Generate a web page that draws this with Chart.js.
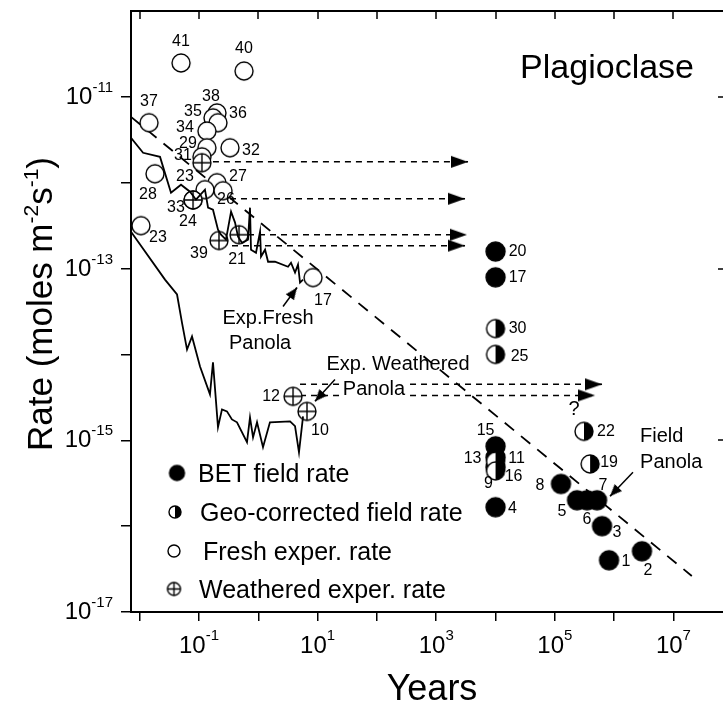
<!DOCTYPE html>
<html>
<head>
<meta charset="utf-8">
<script src="https://cdn.jsdelivr.net/npm/chart.js@4.4.0/dist/chart.umd.min.js"></script>
<style>
  html, body { margin: 0; padding: 0; background: #fff; overflow: hidden; }
  #wrap { width: 723px; height: 702px; overflow: hidden; }
  canvas { display: block; }
</style>
</head>
<body>
<div id="wrap"><canvas id="chart" width="740" height="702"></canvas></div>
<script>
// ---- data (years, rate in moles m-2 s-1) ----
const betYears  = [1e4, 1e4, 1e4, 1e4, 1e4, 1e4, 1.27e5, 2.37e5, 3.49e5, 5.15e5, 6.25e5, 8.2e5, 2.95e6];
const betRates  = [1.58e-13, 7.9e-14, 8.5e-16, 6.3e-16, 4.85e-16, 1.66e-16, 3.1e-16, 2.0e-16, 2.0e-16, 2.0e-16, 1.0e-16, 4.0e-17, 5.1e-17];
const betLabels = ['20', '17', '15', '11', '16', '4', '8', '5', '6', '7', '3', '1', '2'];

const geoYears  = [1e4, 1e4, 1e4, 1e4, 3.1e5, 3.93e5];
const geoRates  = [2.0e-14, 1.0e-14, 5.7e-16, 4.4e-16, 1.27e-15, 5.3e-16];
const geoLabels = ['30', '25', '13', '9', '22', '19'];

const freshYears  = [0.0497, 0.574, 0.01435, 0.201, 0.172, 0.209, 0.136, 0.136, 0.333, 0.112, 0.0181, 0.201, 0.126, 0.254, 0.0792, 0.0105, 8.36];
const freshRates  = [2.48e-11, 2.0e-11, 5.0e-12, 6.5e-12, 5.7e-12, 5.0e-12, 4.0e-12, 2.55e-12, 2.55e-12, 2.0e-12, 1.27e-12, 1.0e-12, 8.3e-13, 8.07e-13, 6.3e-13, 3.16e-13, 7.85e-14];
const freshLabels = ['41', '40', '37', '38', '35', '36', '34', '29', '32', '31', '28', '27', '23', '26', '24', '23', '17'];

const weathYears  = [0.112, 0.0792, 0.217, 0.473, 3.85, 6.62];
const weathRates  = [1.71e-12, 6.3e-13, 2.12e-13, 2.48e-13, 3.25e-15, 2.17e-15];
const weathLabels = ['', '33', '39', '21', '12', '10'];

// experimental Panola runs (solid curves)
const freshRunYears = [0.00713, 0.0114, 0.022, 0.0337, 0.0497, 0.0705, 0.0889, 0.126, 0.142, 0.172, 0.209, 0.235, 0.285, 0.347, 0.405, 0.455, 0.532, 0.67, 0.724, 0.753, 0.914, 1.07, 1.11, 1.3, 1.46, 1.91, 3.17, 3.56, 4.16, 4.67, 5.05, 5.68];
const freshRunRates = [3.34e-12, 2.23e-12, 2.0e-12, 7.66e-13, 9.48e-13, 7.85e-13, 6.34e-13, 8.3e-13, 5.12e-13, 4.85e-13, 2.84e-13, 2.48e-13, 2.17e-13, 4.6e-13, 3.43e-13, 2.35e-13, 2.0e-13, 2.17e-13, 5.12e-13, 1.66e-13, 1.53e-13, 2.69e-13, 1.38e-13, 1.66e-13, 1.2e-13, 1.2e-13, 1.05e-13, 1.17e-13, 8.97e-14, 1.11e-13, 6.87e-14, 7.44e-14];

const weathRunYears = [0.00713, 0.0267, 0.0426, 0.0516, 0.0628, 0.0762, 0.104, 0.153, 0.172, 0.209, 0.244, 0.296, 0.359, 0.437, 0.644, 0.724, 0.815, 0.951, 1.2, 1.57, 3.43, 4.16, 4.85, 5.68];
const weathRunRates = [2.69e-13, 7.44e-14, 4.99e-14, 2.35e-14, 1.14e-14, 1.62e-14, 7.24e-15, 3.43e-15, 8.07e-15, 1.42e-15, 2.29e-15, 2.17e-15, 1.75e-15, 1.62e-15, 9.48e-16, 1.85e-15, 1.08e-15, 1.62e-15, 8.3e-16, 1.62e-15, 1.66e-15, 1.46e-15, 7.24e-16, 1.9e-15];

// dashed trend through the field rates
const trendYears = [0.00713, 2.04e7];
const trendRates = [5.85e-12, 2.63e-17];

// dashed horizontal arrows (start, end, rate)
const arrowStartYears = [0.112, 0.333, 0.67, 0.36, 5.05, 5.05];
const arrowEndYears   = [3.44e3, 3.06e3, 3.3e3, 3.06e3, 6.25e5, 4.77e5];
const arrowRates      = [1.75e-12, 6.5e-13, 2.48e-13, 1.85e-13, 4.48e-15, 3.33e-15];

// ---- label placement and annotation layout ----
const betLabelOffsets   = [[22, 0], [22, 0], [-10, -16], [21, 1], [18, 9], [17, 1], [-21, 2], [-15, 11], [0, 19], [6, -15], [15, 6], [17, 1], [6, 19]];
const geoLabelOffsets   = [[22, 0], [24, 2], [-23, -3], [-7, 13], [22, 0], [19, -1]];
const freshLabelOffsets = [[0, -21], [0, -22], [0, -21], [-6, -16], [-20, -6], [20, -9], [-22, -3], [-19, -4], [21, 3], [-19, -1], [-7, 21], [21, -6], [-20, -13], [3, 9], [-5, 22], [17, 12], [10, 23]];
const weathLabelOffsets = [[0, 0], [-17, 8], [-20, 13], [-2, 25], [-22, 0], [13, 19]];

const pointerFromYears = [2.61, 19.6, 2.08e6];
const pointerFromRates = [3.61e-14, 5.12e-15, 4.24e-16];
const pointerToYears   = [4.49, 9.04, 8.53e5];
const pointerToRates   = [6.01e-14, 2.84e-15, 2.23e-16];

const noteTexts = ['Exp.Fresh', 'Panola', 'Exp. Weathered', 'Panola', 'Field', 'Panola', '?'];
const noteYears = [1.458, 1.07, 227, 89.3, 2.74e6, 2.74e6, 2.11e5];
const noteRates = [2.62e-14, 1.34e-14, 7.66e-15, 3.92e-15, 1.11e-15, 5.55e-16, 2.29e-15];
const noteAlign = ['center', 'center', 'center', 'center', 'left', 'left', 'center'];
const noteMask  = [false, false, false, true, false, false, false];

const xTickExps = [-1, 1, 3, 5, 7];
const yTickExps = [-11, -13, -15, -17];

const FONT = '"Liberation Sans", Arial, sans-serif';

// marker images
function marker(kind, r) {
    const s = Math.round(r * 2 + 4);
    const c = document.createElement('canvas');
    c.width = s; c.height = s;
    const g = c.getContext('2d');
    const m = s / 2;
    g.lineWidth = 1.4;
    g.strokeStyle = '#000';
    g.beginPath();
    g.arc(m, m, r, 0, Math.PI * 2);
    g.fillStyle = kind === 'filled' ? '#000' : '#fff';
    g.fill();
    g.stroke();
    if (kind === 'half') {
        g.beginPath();
        g.arc(m, m, r, -Math.PI / 2, Math.PI / 2);
        g.closePath();
        g.fillStyle = '#000';
        g.fill();
    }
    if (kind === 'cross') {
        g.beginPath();
        g.moveTo(m - r, m); g.lineTo(m + r, m);
        g.moveTo(m, m - r); g.lineTo(m, m + r);
        g.stroke();
    }
    return c;
}

// arrow head, tip sits at the image centre
function arrowHead(len, half) {
    const c = document.createElement('canvas');
    c.width = len * 2; c.height = half * 2 + 2;
    const g = c.getContext('2d');
    const m = c.height / 2;
    g.fillStyle = '#000';
    g.beginPath();
    g.moveTo(0, m - half); g.lineTo(len, m); g.lineTo(0, m + half);
    g.closePath();
    g.fill();
    return c;
}

const imgFilled = marker('filled', 9.5);
const imgHalf = marker('half', 9);
const imgOpen = marker('open', 9);
const imgCross = marker('cross', 9);
const legendImgs = [marker('filled', 7.5), marker('half', 6), marker('open', 6), marker('cross', 6.5)];
const bigHead = arrowHead(17, 6);
const smallHead = arrowHead(12, 5);

const pts = (xs, ys) => xs.map((x, i) => ({ x: x, y: ys[i] }));

function segAngle(c) {
    const d = c.dataset.data, xs = c.chart.scales.x, ys = c.chart.scales.y;
    const dx = xs.getPixelForValue(d[1].x) - xs.getPixelForValue(d[0].x);
    const dy = ys.getPixelForValue(d[1].y) - ys.getPixelForValue(d[0].y);
    return Math.atan2(dy, dx) * 180 / Math.PI;
}

const datasets = [
    { label: 'BET field rate', data: pts(betYears, betRates), pointStyle: imgFilled, pointRadius: 9, ptLabels: betLabels, ptOffsets: betLabelOffsets, order: 4 },
    { label: 'Geo-corrected field rate', data: pts(geoYears, geoRates), pointStyle: imgHalf, pointRadius: 9, ptLabels: geoLabels, ptOffsets: geoLabelOffsets, order: 3 },
    { label: 'Fresh exper. rate', data: pts(freshYears, freshRates), pointStyle: imgOpen, pointRadius: 9, ptLabels: freshLabels, ptOffsets: freshLabelOffsets, order: 2 },
    { label: 'Weathered exper. rate', data: pts(weathYears, weathRates), pointStyle: imgCross, pointRadius: 9, ptLabels: weathLabels, ptOffsets: weathLabelOffsets, order: 1 },
    { data: pts(freshRunYears, freshRunRates), showLine: true, borderColor: '#000', borderWidth: 1.8, pointRadius: 0, order: 0 },
    { data: pts(weathRunYears, weathRunRates), showLine: true, borderColor: '#000', borderWidth: 1.8, pointRadius: 0, order: 0 },
    { data: pts(trendYears, trendRates), showLine: true, borderColor: '#000', borderWidth: 1.8, borderDash: [12, 9], pointRadius: 0, order: 5 }
];

// dashed arrows
arrowRates.forEach((r, i) => {
    datasets.push({
        data: [{ x: arrowStartYears[i], y: r }, { x: arrowEndYears[i], y: r }],
        showLine: true, borderColor: '#000', borderWidth: 1.5, borderDash: [6, 5],
        pointStyle: bigHead, pointRadius: c => c.dataIndex === 1 ? 6 : 0, pointRotation: 0, order: 5
    });
});

// pointer arrows for the annotations
pointerToYears.forEach((x, i) => {
    datasets.push({
        data: [{ x: pointerFromYears[i], y: pointerFromRates[i] }, { x: x, y: pointerToRates[i] }],
        showLine: true, borderColor: '#000', borderWidth: 1.5,
        pointStyle: smallHead, pointRadius: c => c.dataIndex === 1 ? 5 : 0, pointRotation: segAngle, order: 0
    });
});

// text with superscripts: parts = [[text, isSup], ...]
function richText(ctx, parts, x, y, align, size, supSize, raise) {
    const w = parts.map(p => {
        ctx.font = (p[1] ? supSize : size) + 'px ' + FONT;
        return ctx.measureText(p[0]).width;
    });
    const total = w.reduce((a, b) => a + b, 0);
    let cx = align === 'right' ? x - total : align === 'center' ? x - total / 2 : x;
    ctx.textAlign = 'left';
    ctx.textBaseline = 'alphabetic';
    parts.forEach((p, i) => {
        ctx.font = (p[1] ? supSize : size) + 'px ' + FONT;
        ctx.fillText(p[0], cx, p[1] ? y - raise : y);
        cx += w[i];
    });
}

const decorPlugin = {
    id: 'decor',
    afterDatasetsDraw(chart) {
        const ctx = chart.ctx;
        ctx.save();
        ctx.fillStyle = '#000';
        ctx.font = '16px ' + FONT;
        ctx.textAlign = 'center';
        ctx.textBaseline = 'middle';
        chart.data.datasets.forEach((ds, di) => {
            if (!ds.ptLabels) return;
            const meta = chart.getDatasetMeta(di);
            meta.data.forEach((el, i) => {
                const t = ds.ptLabels[i];
                if (!t) return;
                const o = ds.ptOffsets[i];
                ctx.fillText(t, el.x + o[0], el.y + o[1]);
            });
        });
        ctx.restore();
    },
    afterDraw(chart) {
        const ctx = chart.ctx;
        const a = chart.chartArea;
        const xs = chart.scales.x, ys = chart.scales.y;
        ctx.save();
        ctx.strokeStyle = '#000';
        ctx.fillStyle = '#000';

        // top and right frame with inward ticks
        ctx.lineWidth = 2;
        ctx.beginPath();
        ctx.moveTo(a.left - 1, a.top); ctx.lineTo(a.right, a.top);
        ctx.moveTo(a.right, a.top); ctx.lineTo(a.right, a.bottom);
        ctx.stroke();
        ctx.lineWidth = 1.5;
        ctx.beginPath();
        for (let e = -2; e <= 7; e++) {
            const px = Math.round(xs.getPixelForValue(Math.pow(10, e)));
            ctx.moveTo(px, a.top); ctx.lineTo(px, a.top + 8);
        }
        yTickExps.forEach(e => {
            const py = Math.round(ys.getPixelForValue(Math.pow(10, e)));
            ctx.moveTo(a.right - 8, py); ctx.lineTo(a.right, py);
        });
        ctx.stroke();

        // tick labels
        yTickExps.forEach(e => {
            const py = ys.getPixelForValue(Math.pow(10, e));
            richText(ctx, [['10', false], [String(e), true]], a.left - 18, py + 7, 'right', 24, 15, 12);
        });
        xTickExps.forEach(e => {
            const px = xs.getPixelForValue(Math.pow(10, e));
            richText(ctx, [['10', false], [String(e), true]], px, a.bottom + 41, 'center', 24, 15, 13);
        });

        // axis titles
        ctx.save();
        ctx.translate(52, 304);
        ctx.rotate(-Math.PI / 2);
        richText(ctx, [['Rate (moles m', false], ['-2', true], ['s', false], ['-1', true], [')', false]], 0, 0, 'center', 35, 21, 14);
        ctx.restore();
        richText(ctx, [['Years', false]], 432, 700, 'center', 36, 20, 0);

        // panel name
        ctx.font = '34px ' + FONT;
        ctx.textAlign = 'right';
        ctx.textBaseline = 'middle';
        ctx.fillText('Plagioclase', a.left + 563, a.top + 58);

        // annotations
        ctx.font = '20px ' + FONT;
        ctx.textBaseline = 'middle';
        noteTexts.forEach((t, i) => {
            const px = xs.getPixelForValue(noteYears[i]);
            const py = ys.getPixelForValue(noteRates[i]);
            ctx.textAlign = noteAlign[i];
            if (noteMask[i]) {
                const w = ctx.measureText(t).width;
                const x0 = noteAlign[i] === 'center' ? px - w / 2 : px;
                ctx.fillStyle = '#fff';
                ctx.fillRect(x0 - 2, py - 9, w + 4, 18);
                ctx.fillStyle = '#000';
            }
            ctx.fillText(t, px, py);
        });

        // legend
        const rows = [462, 501, 540, 578];
        const markX = [46, 44, 43, 43];
        const textX = [67, 69, 72, 68];
        ctx.font = '25px ' + FONT;
        ctx.textAlign = 'left';
        ctx.textBaseline = 'alphabetic';
        for (let i = 0; i < 4; i++) {
            const img = legendImgs[i];
            const cy = a.top + rows[i];
            ctx.drawImage(img, a.left + markX[i] - img.width / 2, cy - img.height / 2);
            ctx.fillText(chart.data.datasets[i].label, a.left + textX[i], cy + 9);
        }
        ctx.restore();
    }
};

function decades(a, b) {
    const out = [];
    for (let e = a; e <= b; e++) out.push({ value: Math.pow(10, e) });
    return out;
}

new Chart(document.getElementById('chart'), {
    type: 'scatter',
    data: { datasets: datasets },
    options: {
        responsive: false,
        animation: false,
        events: [],
        layout: { padding: { left: 121, top: 11, right: 14, bottom: 81 } },
        plugins: { legend: { display: false }, tooltip: { enabled: false } },
        scales: {
            x: {
                type: 'logarithmic',
                min: 0.00713,
                max: 7.7e7,
                afterBuildTicks: ax => { ax.ticks = decades(-2, 7); },
                ticks: { display: false },
                grid: { drawOnChartArea: false, drawTicks: true, tickLength: 9, color: '#000', lineWidth: 1.5 },
                border: { display: true, color: '#000', width: 2 }
            },
            y: {
                type: 'logarithmic',
                min: 1e-17,
                max: 1e-10,
                afterBuildTicks: ax => { ax.ticks = decades(-17, -11); },
                ticks: { display: false },
                grid: { drawOnChartArea: false, drawTicks: true, tickLength: 10, color: '#000', lineWidth: 1.5 },
                border: { display: true, color: '#000', width: 2 }
            }
        }
    },
    plugins: [decorPlugin]
});
</script>
</body>
</html>
